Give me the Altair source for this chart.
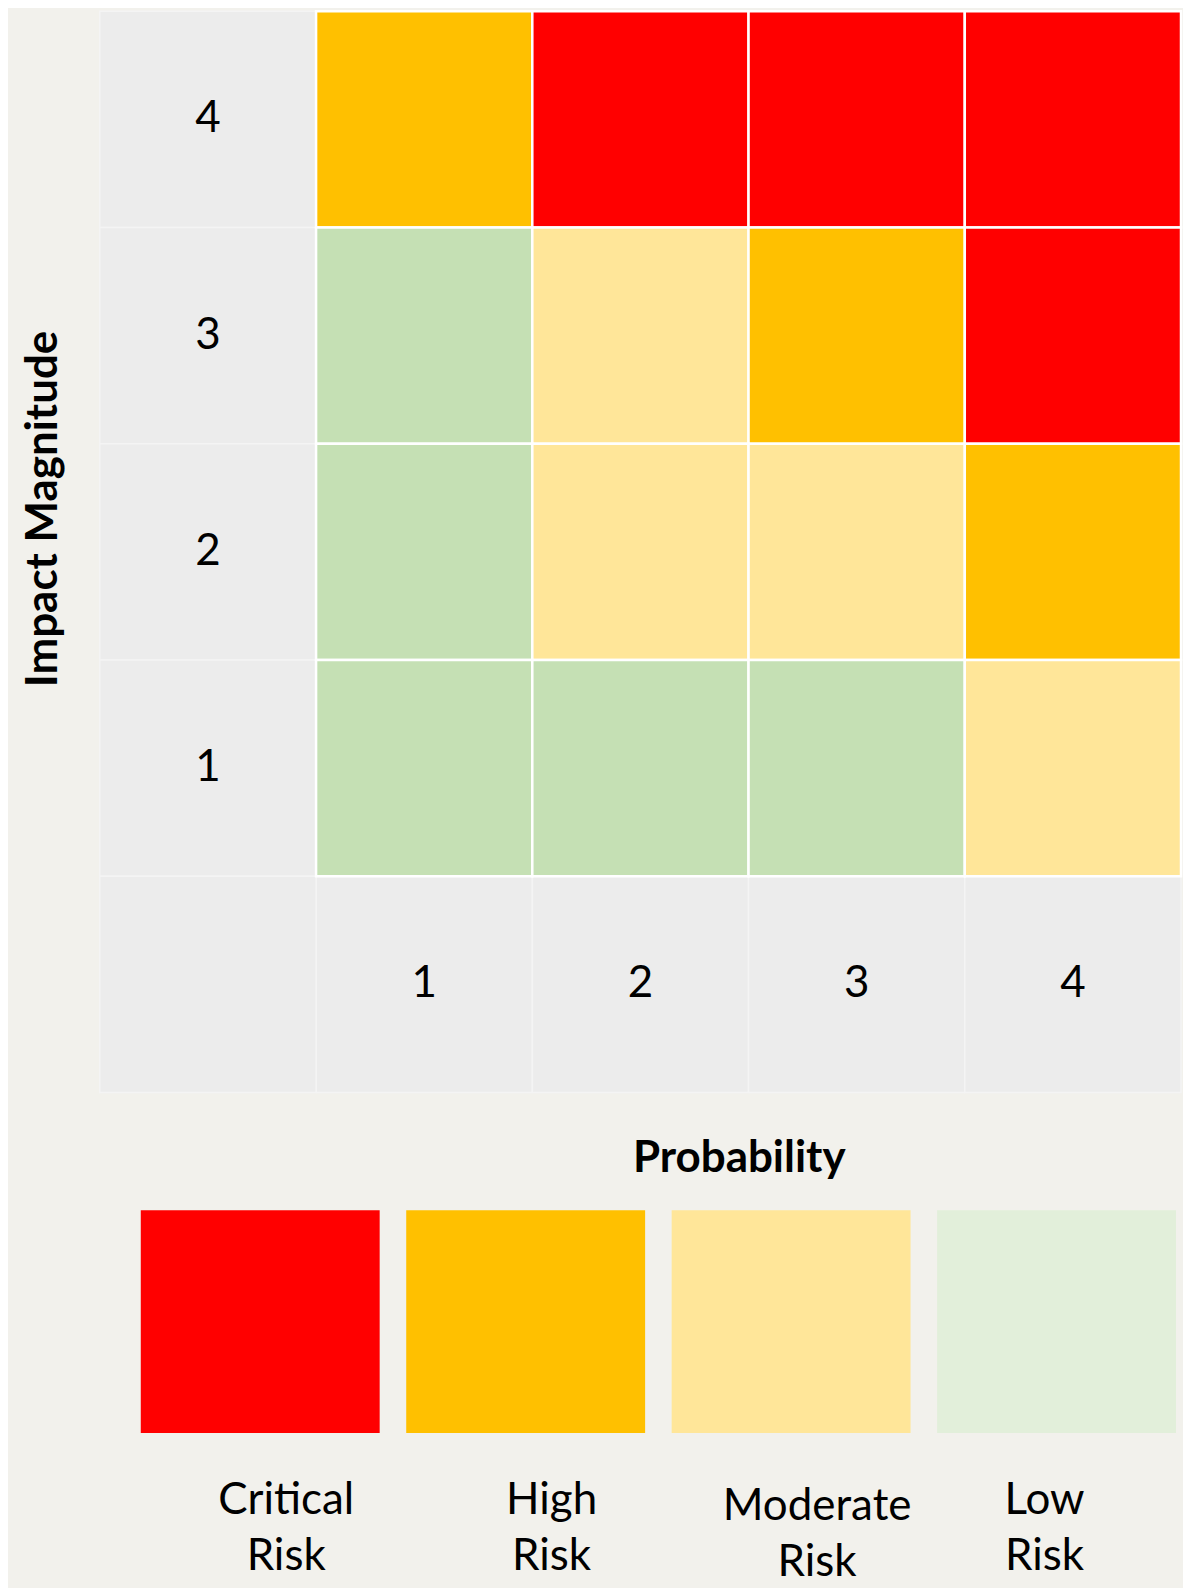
import altair as alt
import pandas as pd

# ---- data ----
probability_levels = ["1", "2", "3", "4"]
impact_levels = ["4", "3", "2", "1"]          # top to bottom
risk_rows = [
    ["High", "Critical", "Critical", "Critical"],   # impact 4
    ["Low", "Moderate", "High", "Critical"],        # impact 3
    ["Low", "Moderate", "Moderate", "High"],        # impact 2
    ["Low", "Low", "Low", "Moderate"],              # impact 1
]
risk_categories = ["Critical", "High", "Moderate", "Low"]
legend_labels = ["Critical Risk", "High Risk", "Moderate Risk", "Low Risk"]
grid_colors = ["#FF0000", "#FFC000", "#FFE699", "#C5E0B4"]
legend_colors = ["#FF0000", "#FFC000", "#FFE699", "#E2EFDA"]

x_domain = [""] + probability_levels
y_domain = impact_levels + [""]

cells = pd.DataFrame([
    {"prob": p, "impact": imp, "risk": risk_rows[r][c]}
    for r, imp in enumerate(impact_levels)
    for c, p in enumerate(probability_levels)
])
label_cells = pd.DataFrame(
    [{"prob": "", "impact": imp, "label": imp} for imp in impact_levels]
    + [{"prob": p, "impact": "", "label": p} for p in probability_levels]
    + [{"prob": "", "impact": "", "label": ""}]
)
legend_df = pd.DataFrame({"risk": risk_categories, "label": legend_labels})

FONT = "Lato"
xs = alt.Scale(domain=x_domain, paddingInner=0, paddingOuter=0)
ys = alt.Scale(domain=y_domain, paddingInner=0, paddingOuter=0)

x_enc = alt.X("prob:N", scale=xs, axis=alt.Axis(
    title="Probability", labels=False, ticks=False, domain=False, grid=False,
    titleFontSize=44, titleFont=FONT, titleFontWeight="bold", titleColor="black",
    titlePadding=44, titleX=640, titleAlign="center"))
y_enc = alt.Y("impact:N", scale=ys, axis=alt.Axis(
    title="Impact Magnitude", labels=False, ticks=False, domain=False, grid=False,
    titleFontSize=44, titleFont=FONT, titleFontWeight="bold", titleColor="black",
    titlePadding=34, titleY=498, titleAlign="center"))

gray_layer = alt.Chart(label_cells).mark_rect(
    color="#ECECEC", stroke="#F4F4F4", strokeWidth=1.5
).encode(x=x_enc, y=y_enc)

risk_layer = alt.Chart(cells).mark_rect(stroke="white", strokeWidth=2.5).encode(
    x=x_enc, y=y_enc,
    color=alt.Color("risk:N", scale=alt.Scale(domain=risk_categories, range=grid_colors), legend=None),
)

text_layer = alt.Chart(label_cells).mark_text(
    font=FONT, fontSize=44, color="black", baseline="middle", align="center"
).encode(x=x_enc, y=y_enc, text="label:N")

grid = alt.layer(gray_layer, risk_layer, text_layer).properties(width=1083, height=1083)

legend = alt.Chart(legend_df).mark_rect().encode(
    x=alt.X("label:N", sort=legend_labels,
            scale=alt.Scale(range=[41, 1078], paddingInner=0.1, paddingOuter=0),
            axis=alt.Axis(title=None, labelExpr="split(datum.label, ' ')", ticks=False,
                          domain=False, grid=False, labelFontSize=44, labelFont=FONT,
                          labelColor="black",
                          labelPadding={"condition": {"test": "datum.value == 'Moderate Risk'", "value": 52}, "value": 46},
                          labelLineHeight=56,
                          labelOffset={"condition": {"test": "datum.value == 'Low Risk'", "value": -12}, "value": 26},
                          labelAngle=0, labelOverlap=False, labelLimit=0)),
    color=alt.Color("risk:N", scale=alt.Scale(domain=risk_categories, range=legend_colors), legend=None),
).properties(width=1083, height=223)

chart = alt.vconcat(grid, legend, spacing=30).resolve_scale(color="independent").configure(
    background="#F2F1EC",
    padding={"left": 14, "top": 0, "right": 0, "bottom": 2},
    font=FONT,
).configure_view(stroke=None)

chart.save("out.html", embed_options={"renderer": "svg", "actions": False})
